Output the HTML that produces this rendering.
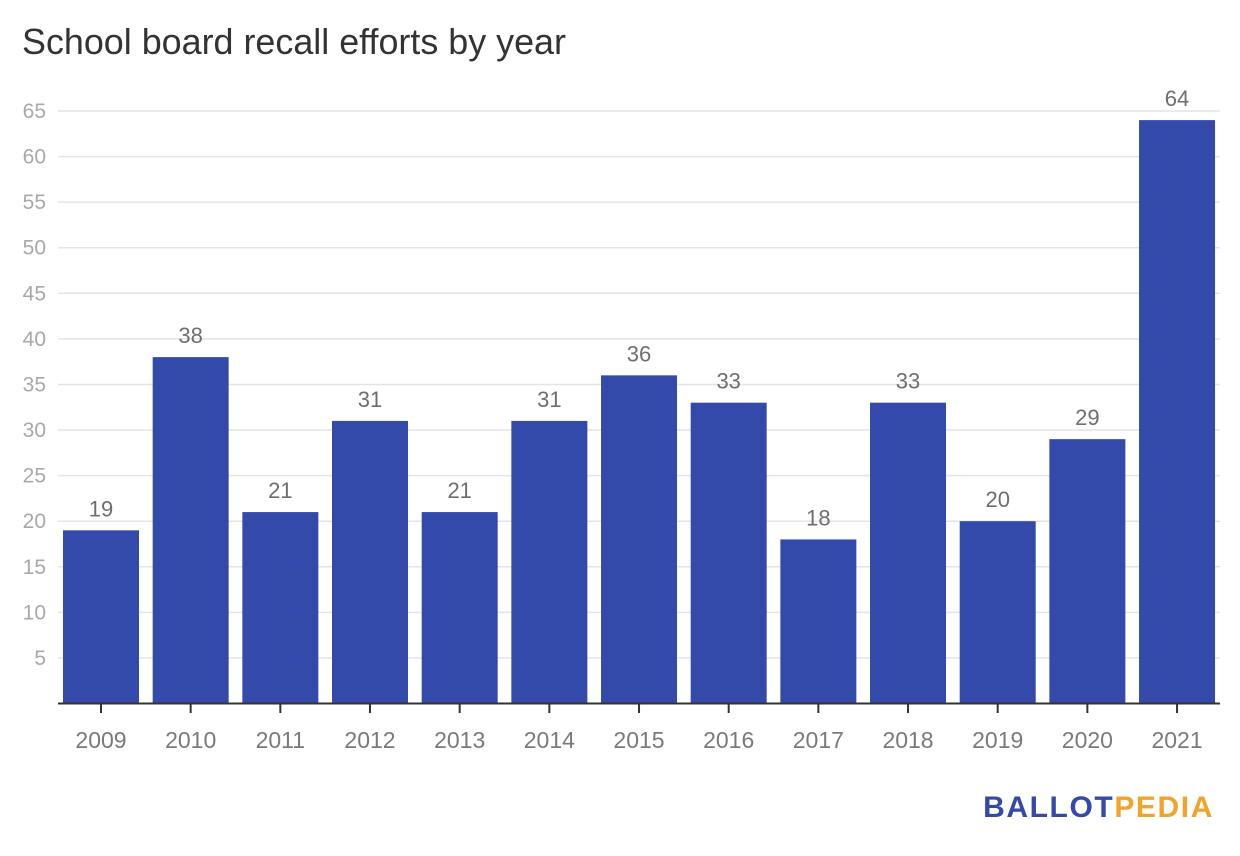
<!DOCTYPE html>
<html><head><meta charset="utf-8"><style>
body{margin:0;background:#fff;}
svg{display:block;font-family:"Liberation Sans",sans-serif;}
</style></head><body>
<svg id="chart" width="1240" height="856">
<text x="22" y="54" font-size="35.9" fill="#333">School board recall efforts by year</text>
<g id="grid"></g><g id="bars"></g><g id="xaxis"></g>
<text x="1214" y="817" font-size="30" font-weight="bold" text-anchor="end" letter-spacing="1.6"><tspan fill="#3648a8">BALLOT</tspan><tspan fill="#f2a42a">PEDIA</tspan></text>
</svg>
<script>
const categories=["2009","2010","2011","2012","2013","2014","2015","2016","2017","2018","2019","2020","2021"];
const values=[19,38,21,31,21,31,36,33,18,33,20,29,64];
const yTicks=[5,10,15,20,25,30,35,40,45,50,55,60,65];
const NS="http://www.w3.org/2000/svg";
const y0=703.5,yScale=(703.5-111)/65;
const y=v=>y0-v*yScale;
const bandStart=58,step=89.67,barW=76;
const x=i=>bandStart+i*step+5;
function mk(tag,attrs,parent,text){const e=document.createElementNS(NS,tag);for(const k in attrs)e.setAttribute(k,attrs[k]);if(text!==undefined)e.textContent=text;parent.appendChild(e);return e;}
const grid=document.getElementById('grid'),bars=document.getElementById('bars'),xa=document.getElementById('xaxis');
yTicks.forEach(t=>{
 const l=mk('line',{x1:58,x2:1220,y1:y(t),y2:y(t),stroke:'#e4e4e4','stroke-width':1.5},grid);
 
 
 const tx=mk('text',{x:46,y:y(t)+7,'font-size':21,fill:'#a8a8a8','text-anchor':'end'},grid,t);
 
 
});
values.forEach((v,i)=>{
 const r=mk('rect',{x:x(i),y:y(v),width:barW,height:y0-y(v),fill:'#334aab'},bars);
 
 
 const t=mk('text',{x:x(i)+barW/2,y:y(v)-14,'font-size':22,fill:'#6e6e6e','text-anchor':'middle'},bars,v);
 
 
 const tk=mk('line',{x1:x(i)+barW/2,x2:x(i)+barW/2,y1:y0,y2:713,stroke:'#333','stroke-width':2},xa);
 
 
 const lb=mk('text',{x:x(i)+barW/2,y:748,'font-size':23,fill:'#7a7a7a','text-anchor':'middle'},xa,categories[i]);
 
 
});
const ax=mk('line',{x1:58,x2:1220,y1:y0,y2:y0,stroke:'#333','stroke-width':2},xa);


</script>
</body></html>
